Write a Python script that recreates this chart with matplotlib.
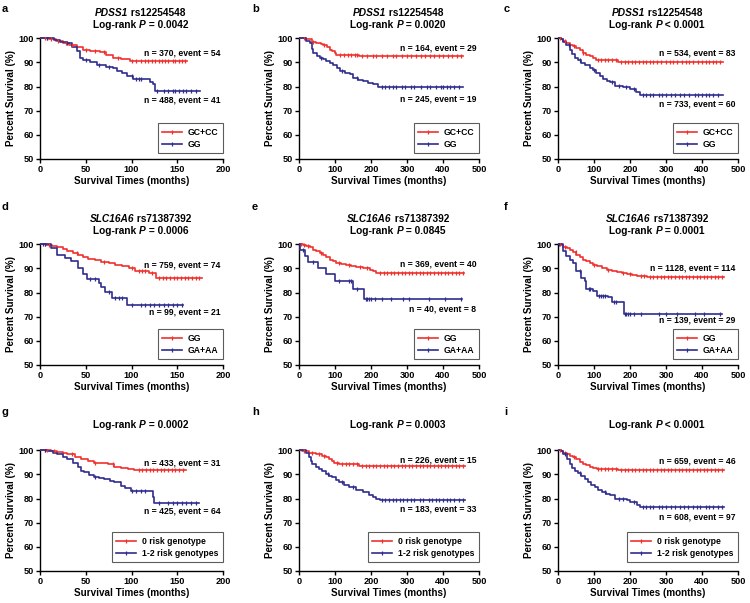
import numpy as np
import matplotlib
matplotlib.use('Agg')
import matplotlib.pyplot as plt
from matplotlib.lines import Line2D
from matplotlib.offsetbox import TextArea, HPacker, AnnotationBbox

plt.rcParams['font.family'] = ['Liberation Sans', 'DejaVu Sans']
plt.rcParams['font.weight'] = 'bold'

RED = '#f0302d'
BLUE = '#2f2c8c'

# ---- data (step times, survival %, censor times) ----
a_red_t = [0, 10, 18, 25, 32, 40, 47, 55, 66, 72, 80, 88, 98, 161]
a_red_s = [100, 99.6, 99, 98.2, 97.3, 96.4, 95.2, 94.8, 94.3, 93.2, 91.8, 91.2, 90.5, 90.5]
a_red_c = [5, 8, 12, 20, 28, 35, 50, 60, 70, 85, 100, 105, 110, 115, 118, 122, 126, 130,
           133, 137, 140, 145, 148, 152, 155, 158]
a_blue_t = [0, 15, 22, 29, 35, 40, 44, 47, 55, 62, 72, 80, 84, 90, 95, 102, 120, 124, 126, 175]
a_blue_s = [100, 99.3, 98.6, 98.0, 96.4, 94.6, 92.0, 90.8, 90.0, 89.0, 88.2, 87.8, 86.4, 85.4,
            84.4, 83.0, 82.0, 81.2, 78.3, 78.3]
a_blue_c = [8, 30, 50, 65, 75, 100, 105, 108, 110, 128, 135, 140, 145, 148, 152, 156, 160, 165, 170]

b_red_t = [0, 20, 35, 48, 60, 67, 78, 85, 93, 99, 104, 168, 455]
b_red_s = [100, 99.5, 98.6, 98, 97.7, 97.3, 96.2, 95.2, 94.5, 93.9, 93.2, 92.5, 92.5]
b_red_c = [15, 40, 70, 115, 125, 135, 145, 155, 160, 175, 190, 205, 215, 230, 245, 260, 270,
           285, 300, 310, 325, 340, 350, 365, 375, 390, 400, 415, 425, 440, 450]
b_blue_t = [0, 20, 30, 36, 39, 50, 57, 66, 76, 85, 94, 105, 113, 128, 141, 150, 165, 178, 192,
            206, 219, 455]
b_blue_s = [100, 99, 98, 95.5, 93.9, 92.8, 91.8, 91.2, 90.5, 89.8, 89.1, 87.8, 86.4, 85.7, 85,
            83.4, 82.9, 82.3, 81.6, 81, 79.6, 79.6]
b_blue_c = [60, 120, 160, 230, 240, 250, 260, 270, 285, 295, 310, 320, 340, 355, 365, 380, 395,
            400, 410, 420, 430, 445]

c_red_t = [0, 8, 14, 22, 32, 42, 51, 60, 69, 78, 88, 97, 106, 167, 458]
c_red_s = [100, 99.5, 99, 98.2, 97.3, 96.6, 95.9, 95.0, 93.9, 93.2, 92.5, 91.8, 91.0, 90.3, 90.3]
c_red_c = [5, 20, 45, 70, 110, 120, 130, 140, 150, 160, 175, 185, 195, 205, 215, 225, 235, 245,
           255, 265, 275, 285, 300, 310, 320, 330, 345, 355, 365, 375, 390, 400, 410, 420, 430,
           440, 450]
c_blue_t = [0, 8, 14, 22, 32, 40, 46, 55, 65, 76, 88, 97, 106, 116, 125, 135, 144, 157, 181, 199,
            218, 227, 458]
c_blue_s = [100, 99.5, 98.5, 97, 95.2, 93.5, 91.8, 90.8, 89.8, 88.8, 87.8, 86.8, 85.7, 84.3, 83,
            82.2, 81.7, 80.3, 79.9, 78.9, 77.6, 76.5, 76.5]
c_blue_c = [30, 60, 100, 150, 170, 190, 210, 235, 245, 255, 265, 280, 290, 300, 315, 325, 340,
            350, 365, 380, 390, 400, 410, 420, 430, 445]

d_red_t = [0, 7, 13, 19, 25, 30, 36, 41, 47, 53, 60, 67, 75, 82, 90, 97, 104, 119, 127, 177]
d_red_s = [100, 99.6, 99.2, 99, 98, 97, 96.4, 95.7, 94.8, 94, 93.3, 92.7, 92.1, 91.6, 90.9, 90.2,
           88.9, 88.2, 86.1, 86.1]
d_red_c = [5, 10, 40, 70, 100, 108, 112, 115, 122, 130, 134, 138, 142, 146, 150, 154, 158, 162,
           166, 170, 174]
d_blue_t = [0, 12, 19, 27, 34, 41, 47, 51, 64, 67, 71, 79, 95, 156]
d_blue_s = [100, 98.4, 95.7, 94.3, 93, 90.2, 87.5, 85.5, 84.1, 82.1, 80.1, 77.8, 75, 75]
d_blue_c = [3, 5, 55, 60, 75, 82, 86, 90, 100, 110, 115, 120, 125, 130, 135, 140, 145, 150, 155]

e_red_t = [0, 11, 20, 30, 40, 48, 57, 66, 75, 85, 94, 103, 117, 131, 145, 159, 178, 196, 205,
           214, 458]
e_red_s = [100, 99.5, 99.2, 98.8, 97.8, 97, 96.4, 95.7, 94.5, 93.6, 92.9, 92.3, 91.7, 91.3, 90.9,
           90.5, 90, 89.5, 88.9, 88.2, 88.2]
e_red_c = [5, 15, 25, 60, 110, 140, 170, 190, 225, 235, 245, 255, 265, 275, 285, 295, 305, 315,
           325, 335, 345, 355, 365, 375, 385, 395, 405, 415, 425, 435, 445, 455]
e_blue_t = [0, 3, 18, 25, 52, 76, 101, 150, 180, 454]
e_blue_s = [100, 97.5, 95, 92.5, 90, 87.5, 84.6, 81.4, 77.5, 77.5]
e_blue_c = [10, 40, 110, 140, 145, 160, 185, 190, 195, 200, 210, 230, 255, 290, 305, 360, 405, 450]

f_red_t = [0, 8, 14, 24, 33, 42, 51, 60, 70, 79, 88, 98, 107, 121, 135, 149, 163, 177, 191, 205,
           219, 247, 461]
f_red_s = [100, 99.5, 99, 98.5, 97.7, 96.7, 95.7, 94.6, 93.6, 92.9, 92.3, 91.6, 90.9, 90.2, 89.5,
           89, 88.6, 88.2, 87.8, 87.3, 86.8, 86.4, 86.4]
f_red_c = [5, 20, 50, 100, 140, 180, 200, 230, 240, 255, 265, 275, 285, 295, 305, 315, 325, 335,
           345, 355, 365, 375, 385, 395, 405, 415, 425, 435, 445, 455]
f_blue_t = [0, 5, 14, 23, 33, 42, 51, 65, 74, 79, 98, 107, 140, 149, 182, 456]
f_blue_s = [100, 100, 97, 95, 93.6, 92.3, 88.9, 86.1, 84.8, 81.4, 80.7, 78.7, 78, 75.9, 71.2, 71.2]
f_blue_c = [3, 60, 85, 90, 115, 120, 125, 130, 155, 160, 185, 190, 195, 200, 210, 230, 280, 300,
            330, 380, 405, 450]

g_red_t = [0, 12, 19, 25, 30, 38, 45, 52, 59, 66, 74, 81, 88, 96, 103, 160]
g_red_s = [100, 99.6, 99.3, 98.9, 98.4, 97.3, 96.3, 95.6, 94.9, 94.6, 94.3, 93.2, 92.7, 92.2,
           91.8, 91.8]
g_red_c = [5, 8, 15, 35, 60, 80, 108, 112, 116, 120, 124, 128, 132, 136, 140, 144, 148, 152, 156]
g_blue_t = [0, 8, 14, 19, 25, 30, 36, 41, 45, 48, 54, 59, 65, 70, 76, 81, 88, 93, 99, 118, 123,
            125, 174]
g_blue_s = [100, 99.5, 99, 98.4, 97.3, 96.3, 94.7, 92.9, 91.6, 90.8, 89.9, 89.1, 88.6, 88.1, 87.4,
            86.7, 85, 84.2, 83.3, 83, 80.6, 78.1, 78.1]
g_blue_c = [5, 60, 100, 105, 110, 115, 130, 140, 145, 150, 155, 160, 165, 170]

h_red_t = [0, 9, 28, 46, 65, 75, 84, 91, 98, 112, 167, 460]
h_red_s = [100, 99.6, 99, 98.4, 97.7, 97, 96.3, 95.6, 94.9, 94.3, 93.6, 93.6]
h_red_c = [15, 35, 55, 70, 105, 120, 130, 140, 150, 160, 175, 185, 195, 205, 215, 225, 235, 245,
           255, 265, 275, 285, 295, 305, 315, 325, 335, 345, 355, 365, 375, 385, 395, 405, 415,
           425, 435, 445, 455]
h_blue_t = [0, 19, 28, 33, 37, 46, 56, 65, 74, 84, 93, 102, 112, 125, 139, 158, 177, 195, 205,
            214, 225, 460]
h_blue_s = [100, 99, 97, 95.5, 94.3, 93.2, 92.2, 91.2, 90.2, 89.5, 88.8, 87.7, 86.7, 85.6, 84.7,
            83.6, 82.7, 81.6, 80.8, 79.9, 79.4, 79.4]
h_blue_c = [80, 120, 150, 230, 240, 250, 260, 270, 280, 290, 300, 310, 320, 335, 345, 360, 370,
            380, 390, 400, 410, 420, 430, 445, 455]

i_red_t = [0, 8, 14, 24, 33, 42, 51, 60, 70, 79, 88, 97, 107, 167, 461]
i_red_s = [100, 99.5, 99, 98.3, 97.7, 97, 96.3, 95.3, 94.3, 93.7, 93.2, 92.7, 92.2, 91.8, 91.8]
i_red_c = [5, 20, 45, 110, 120, 130, 140, 150, 160, 175, 185, 195, 205, 215, 225, 235, 245, 255,
           265, 275, 285, 295, 305, 315, 325, 335, 345, 355, 365, 375, 385, 395, 405, 415, 425,
           435, 445, 455]
i_blue_t = [0, 8, 14, 24, 33, 40, 47, 56, 65, 74, 84, 93, 102, 112, 121, 132, 144, 158, 191, 200,
            219, 228, 461]
i_blue_s = [100, 99.5, 98.4, 96.5, 94.3, 92.8, 91.5, 90.5, 89.5, 88.2, 86.7, 85.7, 84.7, 83.7,
            82.7, 82.0, 81.3, 79.9, 79.2, 78.5, 77.2, 76.5, 76.5]
i_blue_c = [20, 60, 130, 170, 180, 210, 235, 245, 255, 265, 280, 290, 300, 315, 325, 340, 350,
            360, 375, 385, 395, 410, 420, 430, 445, 455]

letters = ['a', 'b', 'c', 'd', 'e', 'f', 'g', 'h', 'i']
genes = ['PDSS1'] * 3 + ['SLC16A6'] * 3 + [None] * 3
snps = ['rs12254548'] * 3 + ['rs71387392'] * 3 + [None] * 3
pvals = ['= 0.0042', '= 0.0020', '< 0.0001', '= 0.0006', '= 0.0845', '= 0.0001',
         '= 0.0002', '= 0.0003', '< 0.0001']
legend_red = ['GC+CC'] * 3 + ['GG'] * 3 + ['0 risk genotype'] * 3
legend_blue = ['GG'] * 3 + ['GA+AA'] * 3 + ['1-2 risk genotypes'] * 3
note_red = ['n = 370, event = 54', 'n = 164, event = 29', 'n = 534, event = 83',
            'n = 759, event = 74', 'n = 369, event = 40', 'n = 1128, event = 114',
            'n = 433, event = 31', 'n = 226, event = 15', 'n = 659, event = 46']
note_blue = ['n = 488, event = 41', 'n = 245, event = 19', 'n = 733, event = 60',
             'n = 99, event = 21', 'n = 40, event = 8', 'n = 139, event = 29',
             'n = 425, event = 64', 'n = 183, event = 33', 'n = 608, event = 97']
note_red_y = [93.9, 95.9, 93.9, 91.6, 91.8, 90.2, 94.9, 95.9, 95.4]
note_blue_y = [74.5, 74.9, 72.8, 71.9, 73.2, 68.8, 74.9, 75.8, 72.4]
xmax = [200, 500, 500, 200, 500, 500, 200, 500, 500]

curves = [
    (a_red_t, a_red_s, a_red_c, a_blue_t, a_blue_s, a_blue_c),
    (b_red_t, b_red_s, b_red_c, b_blue_t, b_blue_s, b_blue_c),
    (c_red_t, c_red_s, c_red_c, c_blue_t, c_blue_s, c_blue_c),
    (d_red_t, d_red_s, d_red_c, d_blue_t, d_blue_s, d_blue_c),
    (e_red_t, e_red_s, e_red_c, e_blue_t, e_blue_s, e_blue_c),
    (f_red_t, f_red_s, f_red_c, f_blue_t, f_blue_s, f_blue_c),
    (g_red_t, g_red_s, g_red_c, g_blue_t, g_blue_s, g_blue_c),
    (h_red_t, h_red_s, h_red_c, h_blue_t, h_blue_s, h_blue_c),
    (i_red_t, i_red_s, i_red_c, i_blue_t, i_blue_s, i_blue_c),
]

# axes boxes in pixels (left, top, width) on a 750x603 canvas
W, H = 750, 603
col_left = [40, 299, 558]
col_width = [183, 180, 180]
row_top = [37, 243, 449]
ax_h = 122
letter_x = [2, 252, 504]
letter_y = [4, 202, 407]


def km(ax, t, s, cens, color):
    ax.step(t, s, where='post', color=color, lw=1.2, zorder=3)
    t = np.asarray(t)
    s = np.asarray(s)
    idx = np.searchsorted(t, cens, side='right') - 1
    ax.plot(cens, s[idx], ls='none', marker='|', ms=3.5, mew=0.9, color=color, zorder=4)


def rich(fig, x, y, parts, size=7.3):
    boxes = [TextArea(txt, textprops=dict(fontsize=size, fontweight='bold', fontstyle=st))
             for txt, st in parts]
    pack = HPacker(children=boxes, align='baseline', pad=0, sep=0)
    ab = AnnotationBbox(pack, (x, y), xycoords='figure fraction', frameon=False,
                        box_alignment=(0.5, 0.5), pad=0)
    fig.add_artist(ab)


fig = plt.figure(figsize=(7.5, 6.03), dpi=100)

for k in range(9):
    r, c = divmod(k, 3)
    left = col_left[c] / W
    bottom = 1 - (row_top[r] + ax_h) / H
    ax = fig.add_axes([left, bottom, col_width[c] / W, ax_h / H])
    rt, rs, rc, bt, bs, bc = curves[k]
    km(ax, rt, rs, rc, RED)
    km(ax, bt, bs, bc, BLUE)

    ax.set_xlim(0, xmax[k])
    ax.set_ylim(50, 100.5)
    ax.set_yticks([50, 60, 70, 80, 90, 100])
    ax.set_xticks(np.arange(0, xmax[k] + 1, 50 if xmax[k] == 200 else 100))
    for sp in ['top', 'right']:
        ax.spines[sp].set_visible(False)
    for sp in ['left', 'bottom']:
        ax.spines[sp].set_linewidth(1.0)
    ax.spines['left'].set_bounds(50, 100)
    ax.tick_params(direction='out', length=3, width=1.0, labelsize=6.6, pad=1.5)
    ax.set_xlabel('Survival Times (months)', fontsize=7.1, fontweight='bold', labelpad=1.5)
    ax.set_ylabel('Percent Survival (%)', fontsize=7.1, fontweight='bold', labelpad=1.5)

    ax.text(0.985, note_red_y[k], note_red[k], transform=ax.get_yaxis_transform(),
            ha='right', va='center', fontsize=6.2, fontweight='bold')
    ax.text(0.985, note_blue_y[k], note_blue[k], transform=ax.get_yaxis_transform(),
            ha='right', va='center', fontsize=6.2, fontweight='bold')

    handles = [Line2D([], [], color=RED, lw=1.2, marker='|', ms=3.5, mew=0.9),
               Line2D([], [], color=BLUE, lw=1.2, marker='|', ms=3.5, mew=0.9)]
    leg = ax.legend(handles, [legend_red[k], legend_blue[k]], loc='lower right',
                    bbox_to_anchor=(1.0, 0.05 if r < 2 else 0.075), borderaxespad=0,
                    frameon=True, fancybox=False, edgecolor='#333333',
                    handlelength=2.3, handletextpad=0.7, borderpad=0.5,
                    labelspacing=0.35, numpoints=1, prop={'weight': 'bold', 'size': 6.2})
    leg.get_frame().set_linewidth(0.8)

    cx = (col_left[c] + col_width[c] / 2 + 9) / W
    top = row_top[r]
    ptitle = [('Log-rank ', 'normal'), ('P', 'italic'), (' ' + pvals[k], 'normal')]
    if genes[k] is not None:
        rich(fig, cx, 1 - (top - 24) / H, [(genes[k], 'italic'), (' ' + snps[k], 'normal')])
        rich(fig, cx, 1 - (top - 12) / H, ptitle)
    else:
        rich(fig, cx, 1 - (top - 24) / H, ptitle)

    fig.text(letter_x[c] / W, 1 - letter_y[r] / H, letters[k],
             ha='left', va='top', fontsize=8, fontweight='bold')

fig.savefig('out.png', dpi=100)
